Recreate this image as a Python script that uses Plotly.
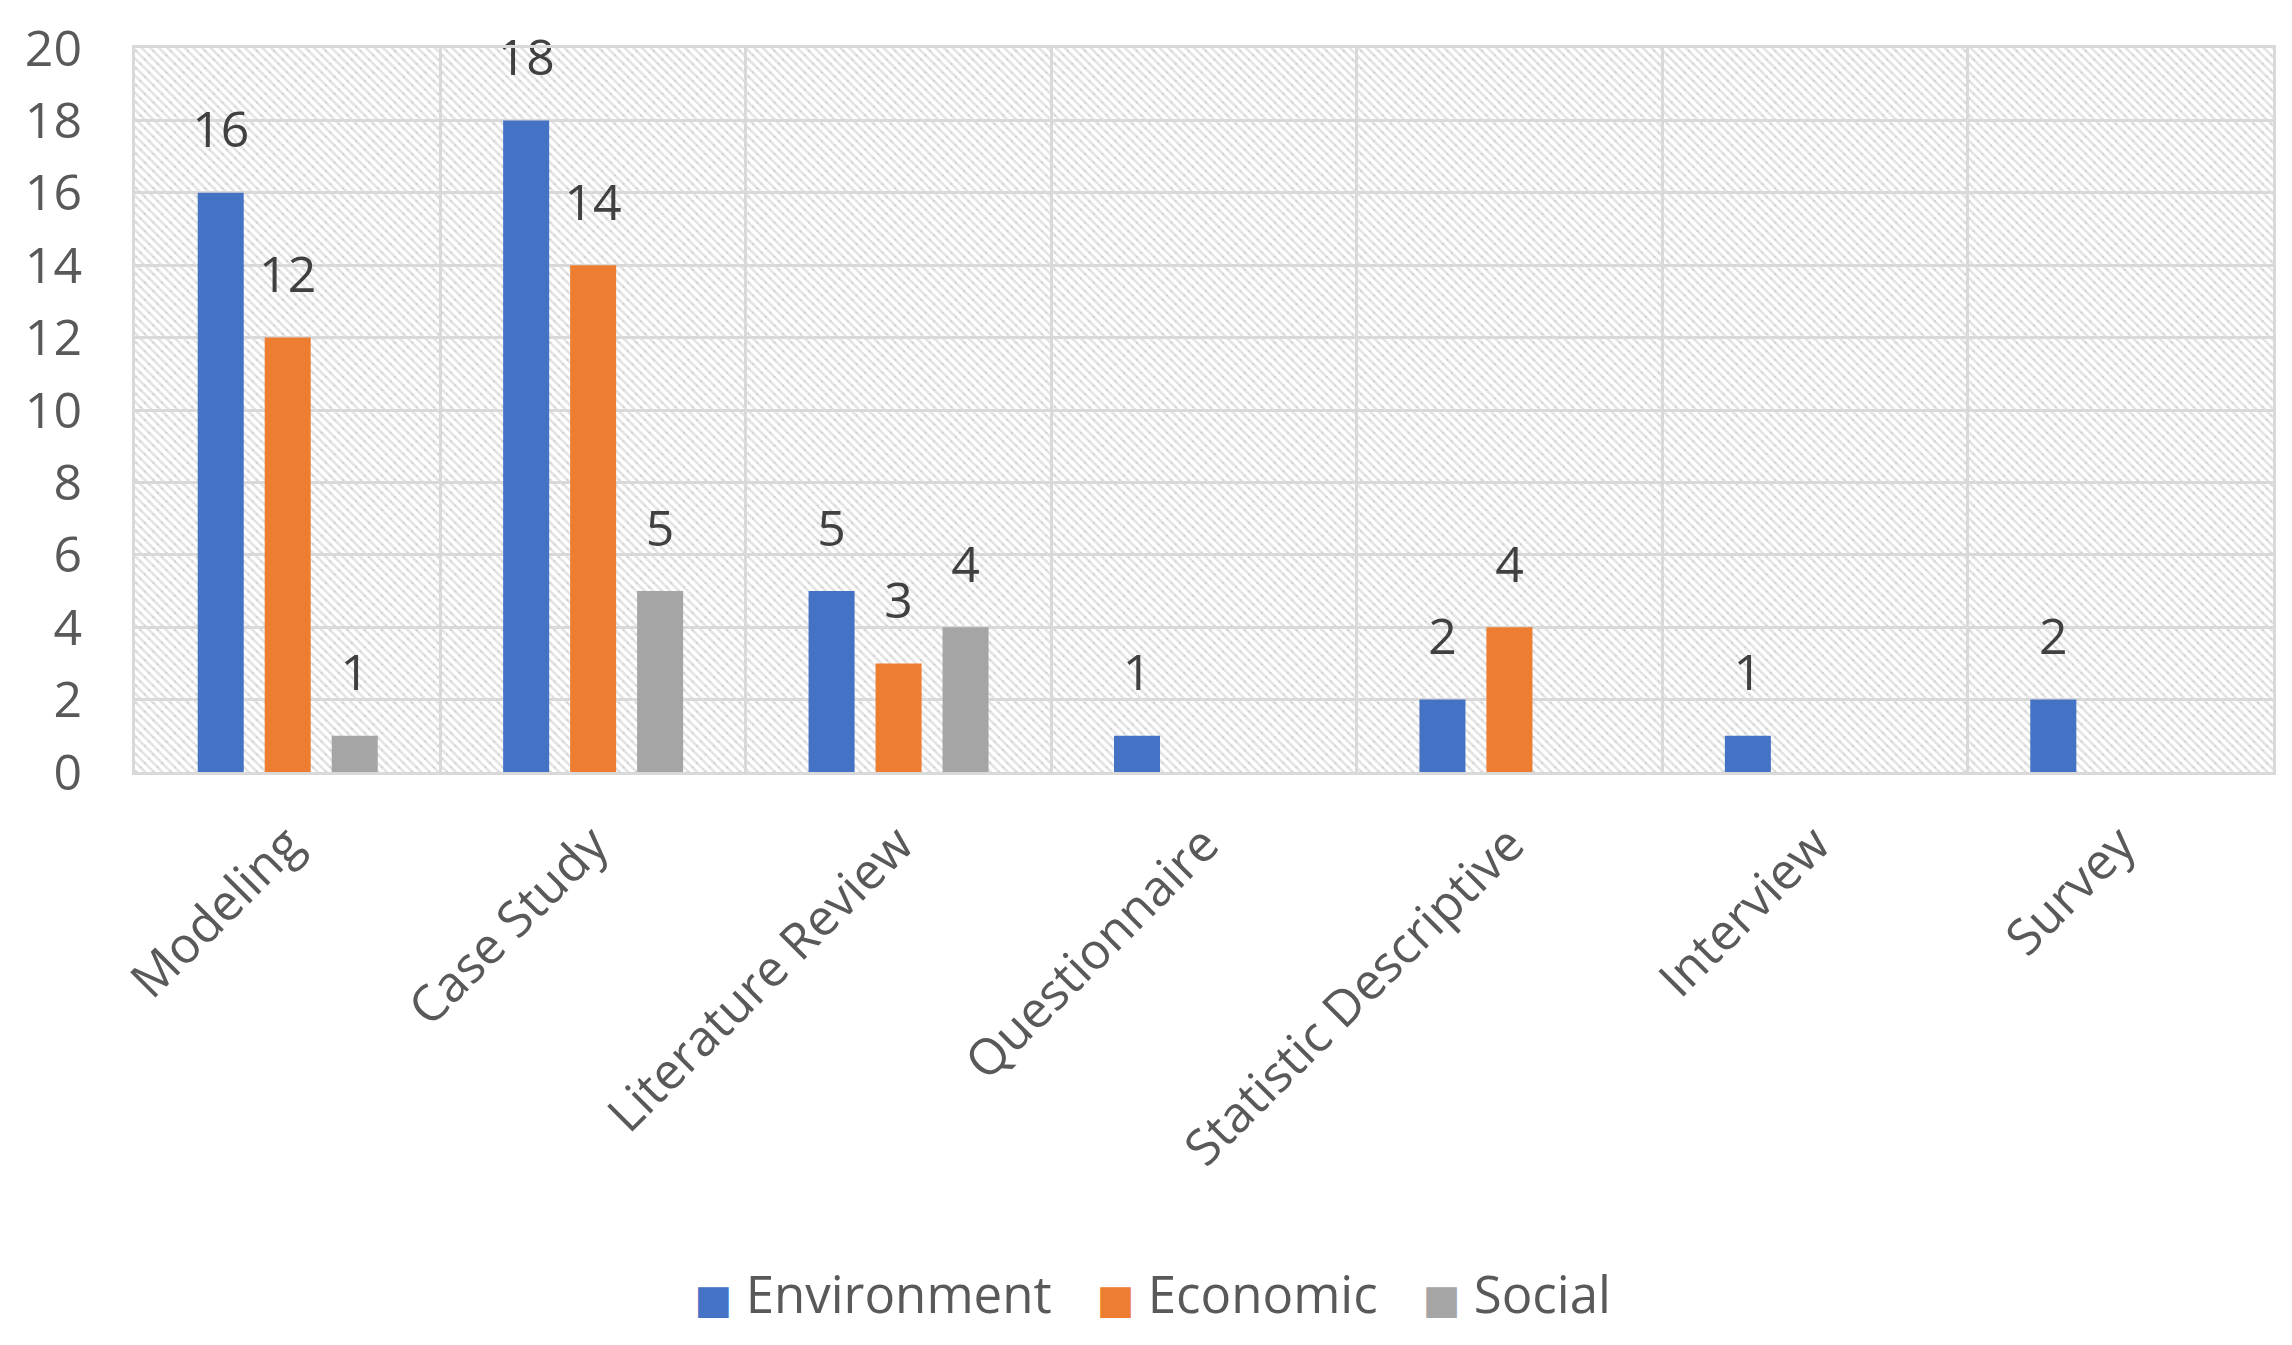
import base64
import plotly.graph_objects as go

# ---- data ----
categories = ["Modeling", "Case Study", "Literature Review", "Questionnaire",
              "Statistic Descriptive", "Interview", "Survey"]
environment = [16, 18, 5, 1, 2, 1, 2]
economic = [12, 14, 3, None, 4, None, None]
social = [1, 5, 4, None, None, None, None]
series_names = ["Environment", "Economic", "Social"]
y_ticks = [0, 2, 4, 6, 8, 10, 12, 14, 16, 18, 20]

# ---- style ----
colors = ["#4472C4", "#ED7D31", "#A5A5A5"]
FONT = "Open Sans, Segoe UI, DejaVu Sans, sans-serif"
W, H = 2292, 1345
ML, MR, MT, MB = 135, 19, 48, 569
PW, PH = W - ML - MR, H - MT - MB
GRID = "#d9d9d9"

# diagonal hatch for the plot background
svg = (
    f"<svg xmlns='http://www.w3.org/2000/svg' width='{PW}' height='{PH}' "
    f"viewBox='0 0 {PW} {PH}'>"
    "<defs><pattern id='h' width='12.2' height='6.1' patternUnits='userSpaceOnUse' "
    "patternTransform='rotate(45)'>"
    "<rect x='0' y='0' width='12.2' height='2.6' fill='#e4e4e4'/>"
    "<circle cx='3' cy='1.3' r='1' fill='#cdcdcd'/>"
    "</pattern></defs>"
    f"<rect width='{PW}' height='{PH}' fill='white'/>"
    f"<rect width='{PW}' height='{PH}' fill='url(#h)'/></svg>"
)
svg_uri = "data:image/svg+xml;base64," + base64.b64encode(svg.encode()).decode()

fig = go.Figure()
series = [environment, economic, social]
for name, vals, col in zip(series_names, series, colors):
    fig.add_trace(go.Bar(
        x=categories, y=vals, name=name, marker=dict(color=col, line=dict(width=0)),
        offsetgroup=name, hoverinfo="skip", showlegend=False,
    ))
# legend entries with large square keys (as in the original)
for name, col in zip(series_names, colors):
    fig.add_trace(go.Bar(
        x=[None], y=[None], offsetgroup=name, hoverinfo="skip",
        marker=dict(color="rgba(0,0,0,0)", line=dict(width=0)),
        name=f"<span style='color:{col};font-size:40px'>■</span> {name}",
        showlegend=True,
    ))
for name, vals in zip(series_names, series):
    fig.add_trace(go.Scatter(
        x=categories, y=vals, mode="markers+text",
        text=[("" if v is None else str(v)) for v in vals],
        textposition="top center",
        textfont=dict(family=FONT, size=50, color="#404040"),
        marker=dict(size=51, color="rgba(0,0,0,0)"),
        offsetgroup=name, showlegend=False, hoverinfo="skip", cliponaxis=False,
    ))

fig.update_layout(
    width=W, height=H,
    margin=dict(l=ML, r=MR, t=MT, b=MB, pad=0),
    paper_bgcolor="white", plot_bgcolor="rgba(0,0,0,0)",
    barmode="group", bargap=0.342, bargroupgap=0.313,
    scattermode="group", scattergap=0.342,
    font=dict(family=FONT, size=50, color="#595959"),
    images=[dict(source=svg_uri, xref="paper", yref="paper", x=0, y=1,
                 sizex=1, sizey=1, xanchor="left", yanchor="top",
                 sizing="stretch", layer="below")],
    legend=dict(orientation="h", x=0.468, xanchor="center", y=-0.72,
                yanchor="middle", font=dict(family=FONT, size=51, color="#595959"),
                bgcolor="rgba(0,0,0,0)", itemwidth=30),
    showlegend=True,
)
fig.update_xaxes(
    type="category", categoryorder="array", categoryarray=categories,
    tickson="boundaries", showgrid=True, gridcolor=GRID, gridwidth=3,
    showline=True, linecolor=GRID, linewidth=3, mirror=True,
    ticks="", tickangle=-45, tickfont=dict(family=FONT, size=50, color="#595959"),
    ticklabelstandoff=20,
)
fig.update_yaxes(
    range=[0, 20], tickvals=y_ticks, showgrid=True, gridcolor=GRID, gridwidth=3,
    zeroline=False, showline=True, linecolor=GRID, linewidth=3, mirror=True,
    ticks="", tickfont=dict(family=FONT, size=50, color="#595959"),
    ticklabelstandoff=40,
)

fig.write_html("out.html", config={"displayModeBar": False},
               post_script="document.body.style.margin='0';")
